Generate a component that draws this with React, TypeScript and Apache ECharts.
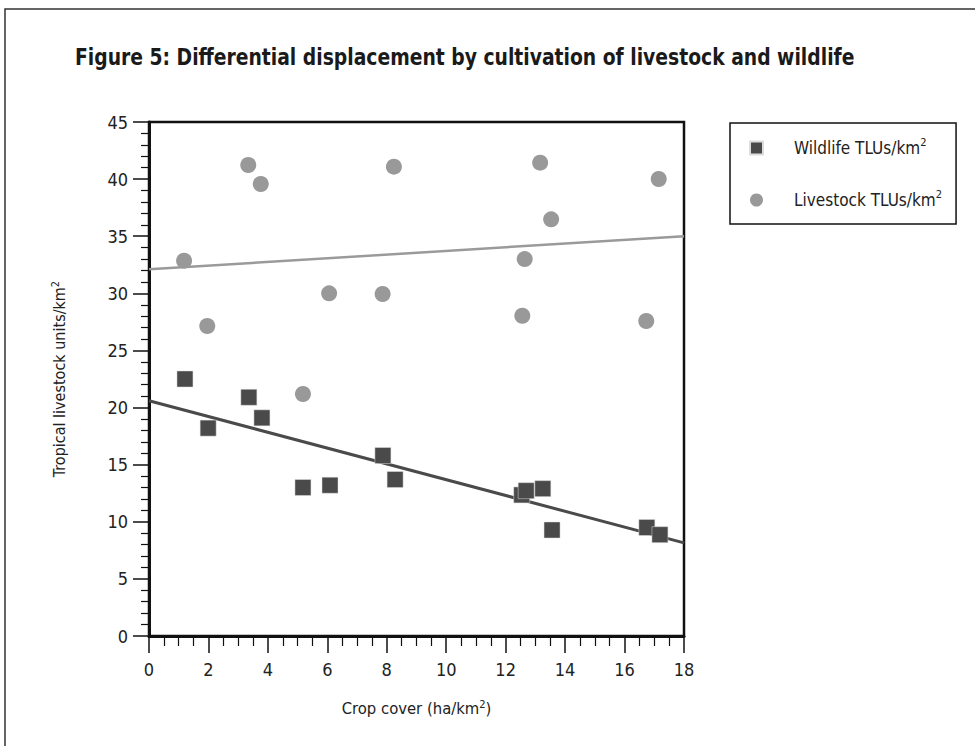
import React, { useEffect, useRef } from "react";
import * as echarts from "echarts";

const wildlifeX = [1.21, 1.99, 3.36, 3.8, 5.18, 6.09, 7.87, 8.28, 12.54, 12.69, 13.25, 13.56, 16.75, 17.19];
const wildlifeY = [22.5, 18.2, 20.9, 19.1, 13.0, 13.2, 15.8, 13.7, 12.35, 12.72, 12.9, 9.28, 9.5, 8.87];
const livestockX = [1.18, 1.96, 3.34, 3.76, 5.18, 6.06, 7.86, 8.24, 12.56, 12.64, 13.16, 13.53, 16.73, 17.15];
const livestockY = [32.86, 27.14, 41.24, 39.57, 21.19, 30.0, 29.94, 41.09, 28.04, 33.0, 41.44, 36.48, 27.58, 40.01];
const wildlifeTrend = [[0, 20.6], [18, 8.15]];
const livestockTrend = [[0, 32.1], [18, 35.0]];
const TITLE = "Figure 5: Differential displacement by cultivation of livestock and wildlife";

const FONT = '"DejaVu Sans Condensed", "Liberation Sans Narrow", sans-serif';

export default function App() {
  const ref = useRef<HTMLDivElement>(null);
  useEffect(() => {
    if (!ref.current) return;
    const chart = echarts.init(ref.current, undefined, { renderer: "svg" });
    const sup = { fontSize: 11, verticalAlign: "top", padding: [0, 0, 8, 0], fontFamily: FONT, color: "#222" };
    const titleSize = 23;
    let titleScale = 0.9;
    try {
      const ctx = document.createElement("canvas").getContext("2d");
      if (ctx) {
        ctx.font = `bold ${titleSize}px ${FONT}`;
        const w = ctx.measureText(TITLE).width;
        if (w > 0) titleScale = 780 / w;
      }
    } catch (e) {}
    chart.setOption({
      animation: false,
      backgroundColor: "#fff",
      textStyle: { fontFamily: FONT },
      graphic: [
        {
          type: "rect",
          shape: { x: 5, y: 9, width: 1100, height: 900 },
          style: { fill: "none", stroke: "#333", lineWidth: 1.5 },
          silent: true,
        },
        {
          type: "text",
          x: 75,
          y: 46,
          scaleX: titleScale,
          silent: true,
          style: {
            text: TITLE,
            fontFamily: FONT,
            fontWeight: "bold",
            fontSize: titleSize,
            fill: "#1a1a1a",
            verticalAlign: "top",
          },
        },
      ],
      grid: {
        left: 149,
        top: 122,
        right: 291,
        bottom: 110,
        show: true,
        borderColor: "#111",
        borderWidth: 2.5,
        backgroundColor: "transparent",
      },
      legend: {
        orient: "vertical",
        left: 730,
        top: 123,
        padding: [14, 14, 13, 19],
        itemGap: 30,
        itemWidth: 13,
        itemHeight: 13,
        borderColor: "#111",
        borderWidth: 1.5,
        data: ["Wildlife", "Livestock"],
        formatter: (n: string) => `{t|${n} TLUs/km}{sup|2}`,
        textStyle: {
          fontFamily: FONT,
          fontSize: 17,
          color: "#222",
          lineHeight: 22,
          rich: {
            t: { fontFamily: FONT, fontSize: 17, color: "#222", padding: [0, 0, 0, 26] },
            sup,
          },
        },
      },
      xAxis: {
        type: "value",
        min: 0,
        max: 18,
        interval: 2,
        name: "Crop cover (ha/km{sup|2})",
        nameLocation: "middle",
        nameGap: 63,
        nameTextStyle: { fontFamily: FONT, fontSize: 16.5, color: "#222", rich: { sup } },
        axisLine: { show: true, lineStyle: { color: "#111", width: 3 } },
        axisTick: { show: true, length: 17, lineStyle: { color: "#111", width: 1.5 } },
        minorTick: { show: true, splitNumber: 4, length: 10, lineStyle: { color: "#111", width: 1.2 } },
        axisLabel: { margin: 24, fontFamily: FONT, fontSize: 18, color: "#222" },
        splitLine: { show: false },
      },
      yAxis: {
        type: "value",
        min: 0,
        max: 45,
        interval: 5,
        name: "Tropical livestock units/km{sup|2}",
        nameLocation: "middle",
        nameGap: 80,
        nameRotate: 90,
        nameTextStyle: { fontFamily: FONT, fontSize: 16, color: "#222", rich: { sup } },
        axisLine: { show: true, lineStyle: { color: "#111", width: 3 } },
        axisTick: { show: true, length: 16, lineStyle: { color: "#111", width: 1.5 } },
        minorTick: { show: true, splitNumber: 5, length: 8, lineStyle: { color: "#111", width: 1.2 } },
        axisLabel: { margin: 21, fontFamily: FONT, fontSize: 18, color: "#222" },
        splitLine: { show: false },
      },
      series: [
        {
          name: "Wildlife trend",
          type: "line",
          data: wildlifeTrend,
          showSymbol: false,
          silent: true,
          z: 1,
          lineStyle: { color: "#4a4a4a", width: 3 },
        },
        {
          name: "Livestock trend",
          type: "line",
          data: livestockTrend,
          showSymbol: false,
          silent: true,
          z: 1,
          lineStyle: { color: "#9a9a9a", width: 2.5 },
        },
        {
          name: "Wildlife",
          type: "scatter",
          symbol: "rect",
          symbolSize: 16,
          z: 3,
          itemStyle: { color: "#4a4a4a", opacity: 1, borderColor: "#ddd", borderWidth: 0.5 },
          data: wildlifeX.map((x, i) => [x, wildlifeY[i]]),
        },
        {
          name: "Livestock",
          type: "scatter",
          symbol: "circle",
          symbolSize: 16,
          z: 2,
          itemStyle: { color: "#999999", opacity: 1 },
          data: livestockX.map((x, i) => [x, livestockY[i]]),
        },
      ],
    });
    return () => chart.dispose();
  }, []);
  return <div ref={ref} style={{ position: "absolute", left: 0, top: 0, width: 975, height: 746 }} />;
}
